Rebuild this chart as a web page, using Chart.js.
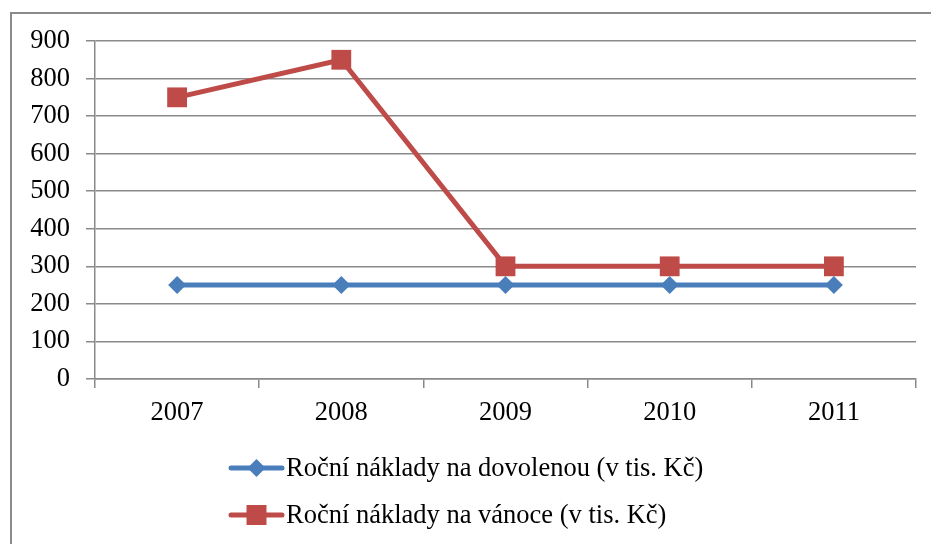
<!DOCTYPE html>
<html>
<head>
<meta charset="utf-8">
<script src="https://cdn.jsdelivr.net/npm/chart.js@4/dist/chart.umd.min.js"></script>
<style>
  html, body { margin: 0; padding: 0; background: #fff; }
</style>
</head>
<body>
<canvas id="nakladyChart" width="931" height="544"></canvas>
<script>
const years = ["2007", "2008", "2009", "2010", "2011"];
const dovolena = [250, 250, 250, 250, 250];
const vanoce = [750, 850, 300, 300, 300];
const labelDovolena = "Roční náklady na dovolenou (v tis. Kč)";
const labelVanoce = "Roční náklady na vánoce (v tis. Kč)";

const FONT = "'Liberation Serif', 'Times New Roman', serif";
Chart.defaults.font.family = FONT;
Chart.defaults.font.size = 26.5;
Chart.defaults.color = "#000";

const gridColor = "#8a8a8a";

// outer frame like the Excel chart area
const framePlugin = {
  id: "frame",
  beforeDraw(chart) {
    const ctx = chart.ctx;
    ctx.save();
    ctx.strokeStyle = "#8a8a8a";
    ctx.lineWidth = 2;
    ctx.strokeRect(11, 13, 940, 560);
    ctx.restore();
  },
};

function drawMarker(ctx, style, x, y, color) {
  ctx.fillStyle = color;
  ctx.beginPath();
  if (style === "rectRot") {
    ctx.moveTo(x - 9, y);
    ctx.lineTo(x, y - 9);
    ctx.lineTo(x + 9, y);
    ctx.lineTo(x, y + 9);
  } else {
    ctx.rect(x - 10, y - 10, 20, 20);
  }
  ctx.closePath();
  ctx.fill();
}

// legend: line with marker, stacked rows under the axis
const legendPlugin = {
  id: "excelLegend",
  afterDraw(chart) {
    const ctx = chart.ctx;
    const rows = [468, 515];
    ctx.save();
    chart.data.datasets.forEach((ds, i) => {
      const y = rows[i];
      ctx.strokeStyle = ds.borderColor;
      ctx.lineWidth = 5;
      ctx.lineCap = "round";
      ctx.beginPath();
      ctx.moveTo(231, y);
      ctx.lineTo(282, y);
      ctx.stroke();
      drawMarker(ctx, ds.pointStyle, 256.5, y, ds.borderColor);
      ctx.fillStyle = "#000";
      ctx.font = "26.5px " + FONT;
      ctx.textBaseline = "middle";
      ctx.textAlign = "left";
      ctx.fillText(ds.label, 286, y + 1);
    });
    ctx.restore();
  },
};

new Chart(document.getElementById("nakladyChart").getContext("2d"), {
  type: "line",
  data: {
    labels: years,
    datasets: [
      {
        label: labelDovolena,
        data: dovolena,
        borderColor: "#4A7EBB",
        backgroundColor: "#4A7EBB",
        borderWidth: 5,
        pointStyle: "rectRot",
        pointRadius: 9,
        pointBorderWidth: 0,
        tension: 0,
      },
      {
        label: labelVanoce,
        data: vanoce,
        borderColor: "#BE4B48",
        backgroundColor: "#BE4B48",
        borderWidth: 5,
        pointStyle: "rect",
        pointRadius: 14,
        pointBorderWidth: 0,
        tension: 0,
      },
    ],
  },
  options: {
    responsive: false,
    animation: false,
    layout: {
      padding: { left: 0, top: 41, right: 15, bottom: 0 },
    },
    plugins: {
      legend: { display: false },
      tooltip: { enabled: false },
    },
    scales: {
      x: {
        offset: true,
        grid: {
          offset: true,
          drawOnChartArea: false,
          drawTicks: true,
          tickLength: 9,
          color: gridColor,
          lineWidth: 1.5,
        },
        border: { color: gridColor, width: 1.5 },
        ticks: { padding: 9 },
        afterFit(scale) {
          scale.height = 165;
        },
      },
      y: {
        min: 0,
        max: 900,
        ticks: { stepSize: 100, padding: 16 },
        grid: {
          color: gridColor,
          lineWidth: 1.5,
          tickLength: 9,
        },
        border: { color: gridColor, width: 1.5 },
        afterFit(scale) {
          scale.width = 95;
        },
      },
    },
  },
  plugins: [framePlugin, legendPlugin],
});
</script>
</body>
</html>
